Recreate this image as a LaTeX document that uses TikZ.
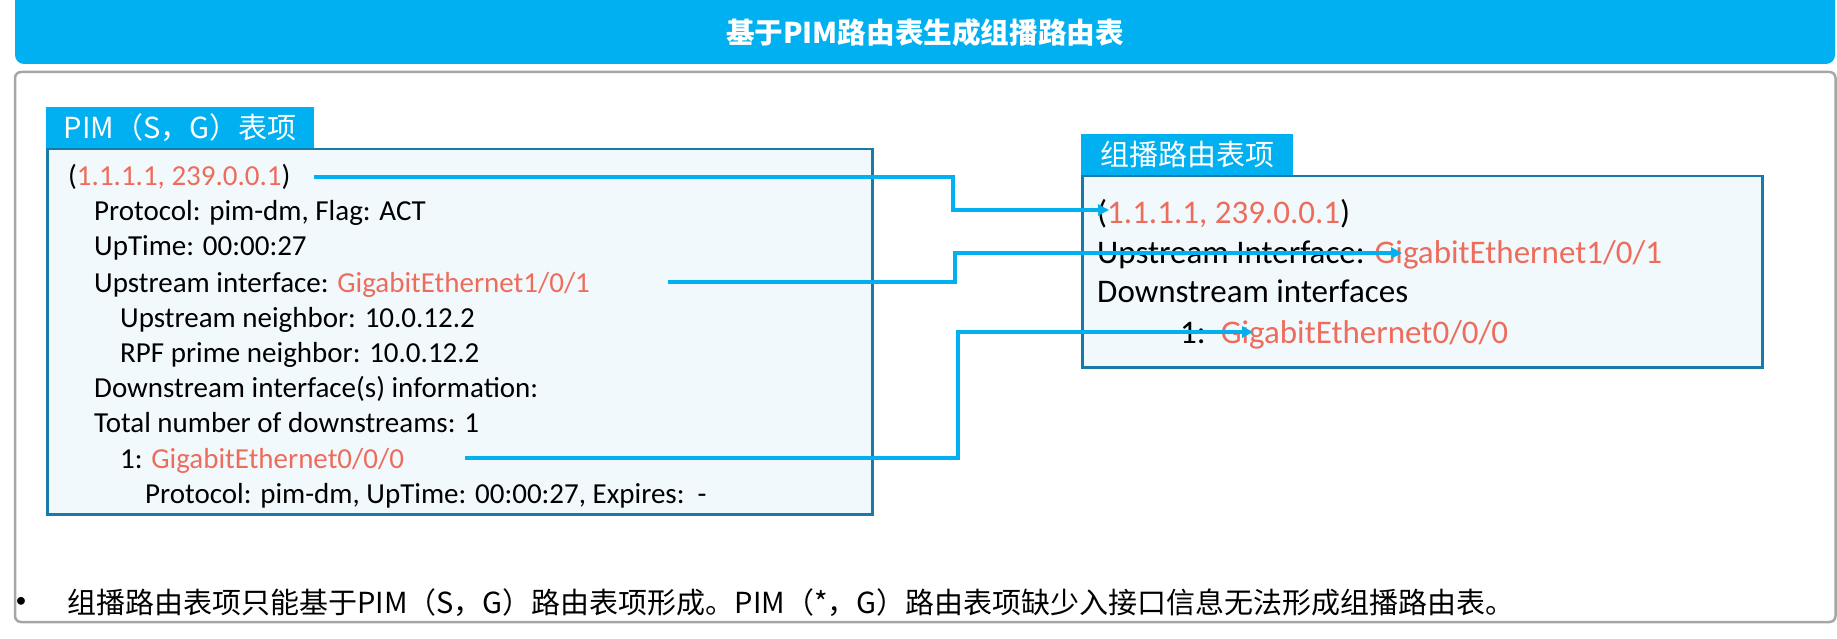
\documentclass[tikz,border=0pt]{standalone}
\usepackage{fontspec}
\setmainfont{Carlito}
\newfontfamily\cjk{Noto Sans CJK SC}
\usetikzlibrary{arrows.meta}
\definecolor{barblue}{RGB}{0,176,240}
\definecolor{boxline}{RGB}{24,122,166}
\definecolor{boxfill}{RGB}{242,249,252}
\definecolor{redtxt}{RGB}{238,108,92}
\definecolor{panelgray}{RGB}{166,166,166}
\newcommand{\rt}[1]{\textcolor{redtxt}{#1}}
\tikzset{
  databox/.style={draw=boxline, fill=boxfill, line width=2.5pt, inner sep=0pt},
  tabbox/.style={fill=barblue, inner sep=0pt, text=white, font=\cjk\fontsize{29}{35}\selectfont},
  lnL/.style={anchor=base west, inner sep=0pt, font=\fontsize{29}{35}\selectfont},
  lnR/.style={anchor=base west, inner sep=0pt, font=\fontsize{31}{37}\selectfont},
  conn/.style={draw=barblue, line width=3.5pt},
  tip/.style={-{Triangle[length=11pt,width=11pt]}}
}
\begin{document}
\begin{tikzpicture}[x=1pt,y=-1pt]
\useasboundingbox (0,0) rectangle (1837,639);
% title bar
\fill[barblue, rounded corners=9pt] (15,-12) rectangle (1835,64);
\node[text=white, font=\cjk\bfseries\fontsize{28.6}{34}\selectfont, inner sep=0pt] (title) at (925,33) {基于PIM路由表生成组播路由表};
% panel
\draw[panelgray, line width=2.5pt, rounded corners=6pt] (15,72) rectangle (1835.5,622);
% left table
\node[tabbox, anchor=north west, minimum width=268pt, minimum height=41pt] (pimtab) at (46,107) {PIM（S，G）表项};
\node[databox, anchor=north west, minimum width=825pt, minimum height=365pt] (pimbox) at (46,148) {};
\node[lnL] (p1) at (68,186) {(\rt{1.1.1.1, 239.0.0.1})};
\node[lnL] (p2) at (94,221) {Protocol: pim-dm, Flag: ACT};
\node[lnL] (p3) at (94,256) {UpTime: 00:00:27};
\node[lnL] (p4) at (94,292) {Upstream interface: \rt{GigabitEthernet1/0/1}};
\node[lnL] (p5) at (120,327) {Upstream neighbor: 10.0.12.2};
\node[lnL] (p6) at (120,362) {RPF prime neighbor: 10.0.12.2};
\node[lnL] (p7) at (94,397) {Downstream interface(s) information:};
\node[lnL] (p8) at (94,432) {Total number of downstreams: 1};
\node[lnL] (p9) at (120,468) {1: \rt{GigabitEthernet0/0/0}};
\node[lnL] (p10) at (145,503) {Protocol: pim-dm, UpTime: 00:00:27, Expires:\ \ -};
% right table
\node[tabbox, anchor=north west, minimum width=212pt, minimum height=41pt] (mctab) at (1081,134) {组播路由表项};
\node[databox, anchor=north west, minimum width=680pt, minimum height=191pt] (mcbox) at (1081,175) {};
\node[lnR, font=\fontsize{33}{39}\selectfont] (m1) at (1097,224) {(\rt{1.1.1.1, 239.0.0.1})};
\node[lnR, font=\fontsize{33}{39}\selectfont] (m2) at (1097,263) {Upstream Interface: \rt{GigabitEthernet1/0/1}};
\node[lnR, font=\fontsize{33}{39}\selectfont] (m3) at (1097,302) {Downstream interfaces};
\node[lnR, font=\fontsize{33}{39}\selectfont] (m4) at (1180,343) {1:\hspace{15pt}\rt{GigabitEthernet0/0/0}};
% connectors
\coordinate (c1s) at (314,177);
\coordinate (c1e) at (1109,210);
\coordinate (c2s) at (668,282);
\coordinate (c2e) at (1402,253);
\coordinate (c3s) at (465,458);
\coordinate (c3e) at (1253,332);
\draw[conn, tip] (c1s) -- (953,177) |- (c1e);
\draw[conn, tip] (c2s) -- (955,282) |- (c2e);
\draw[conn, tip] (c3s) -- (958,458) |- (c3e);
% footnote
\node[inner sep=0pt, font=\fontsize{22}{26}\selectfont] (bul) at (21,602) {•};
\node[anchor=west, inner sep=0pt, font=\cjk\fontsize{29}{34}\selectfont] (note) at (67,603) {组播路由表项只能基于PIM（S，G）路由表项形成。PIM（*，G）路由表项缺少入接口信息无法形成组播路由表。};
\end{tikzpicture}
\end{document}
